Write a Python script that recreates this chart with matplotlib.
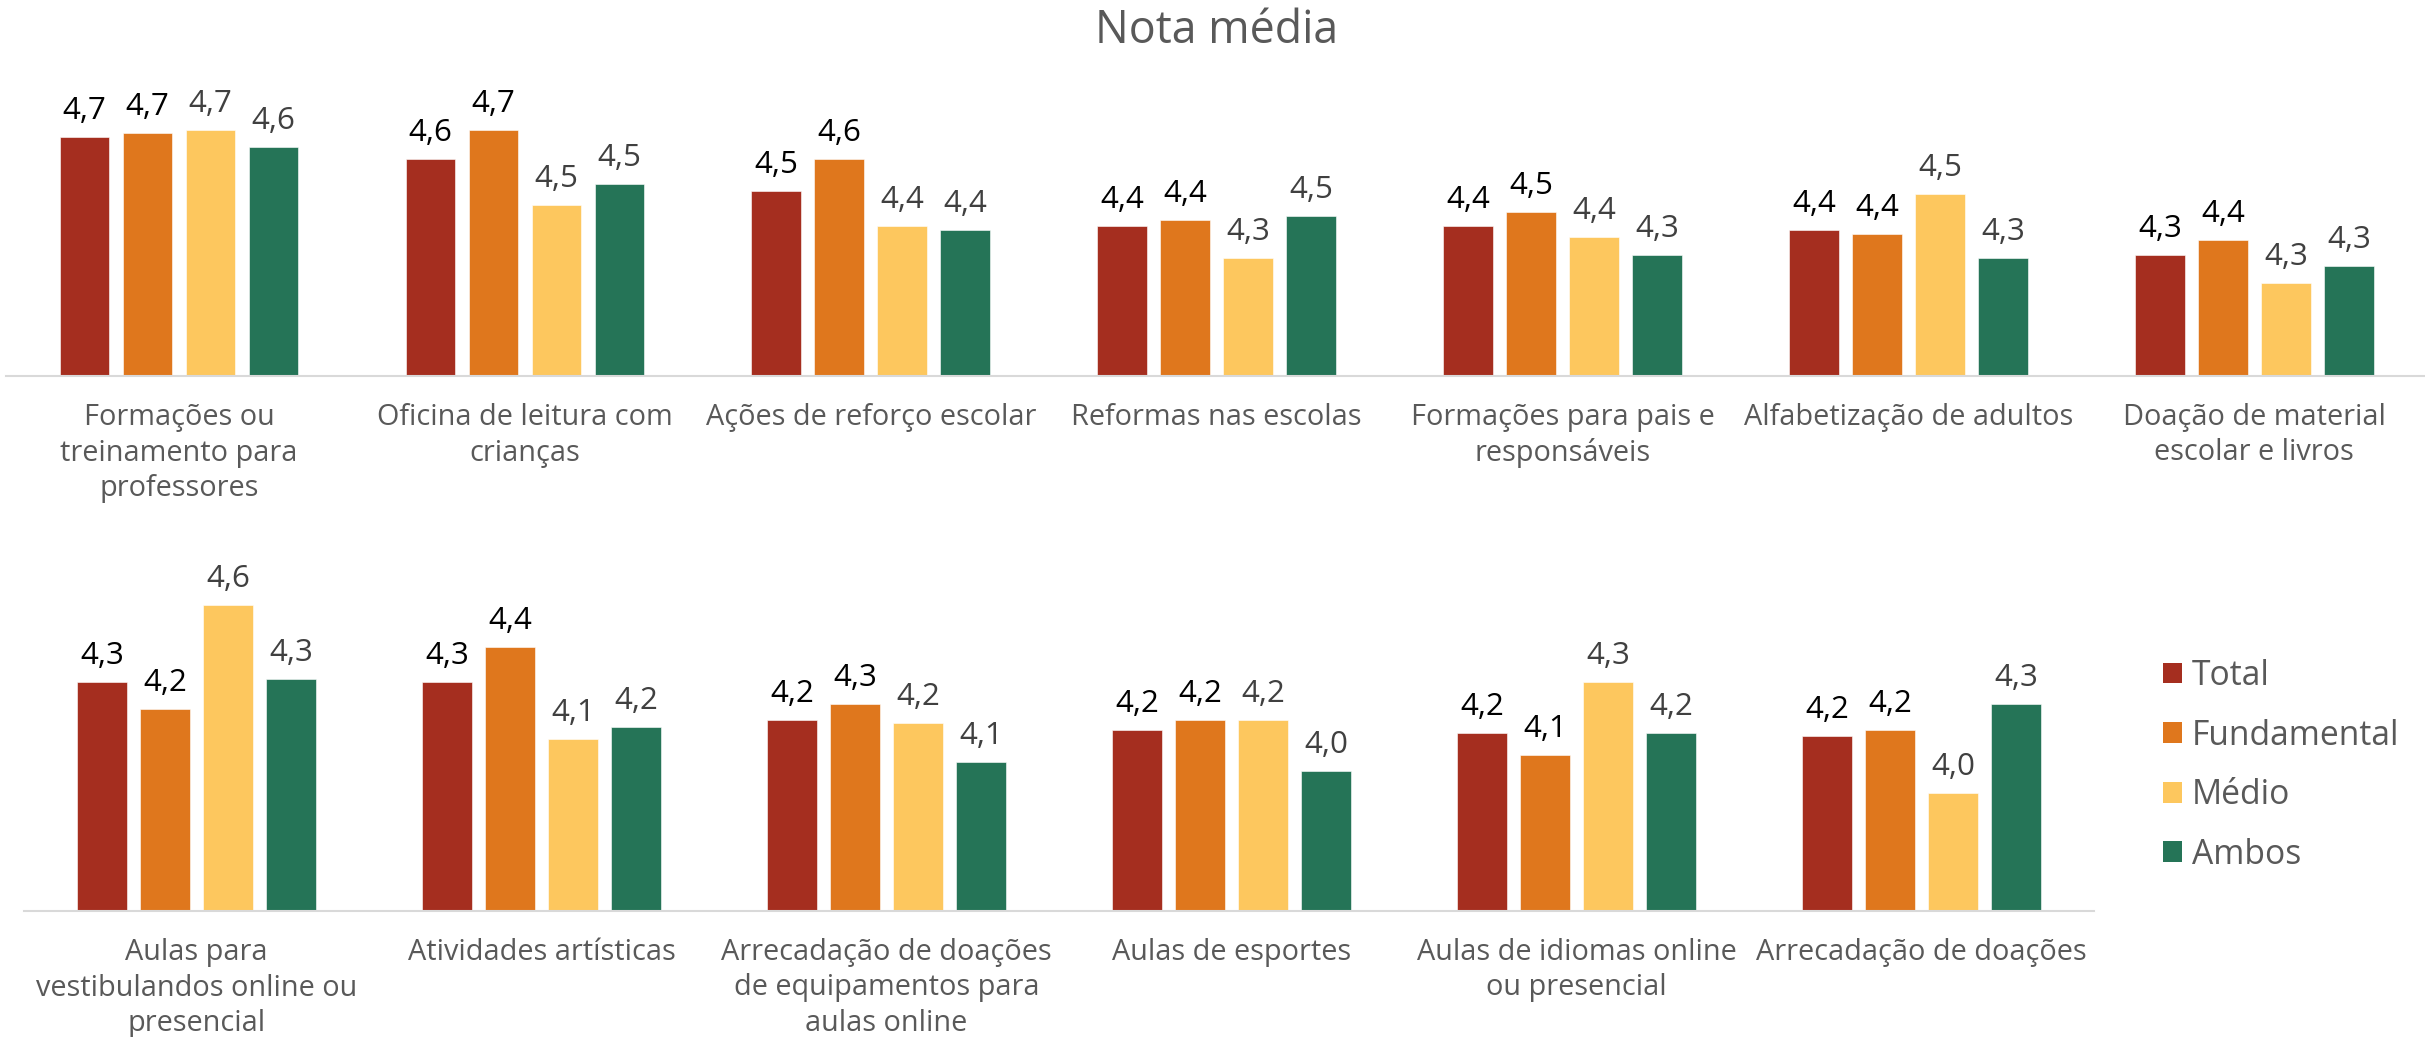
import matplotlib.pyplot as plt
from matplotlib.patches import Patch

plt.rcParams['font.family'] = ['Open Sans', 'DejaVu Sans']

# series / colours
series = ['Total', 'Fundamental', 'Médio', 'Ambos']
colors = ['#A52E1F', '#DF771D', '#FDC75E', '#257457']
value_colors = ['#000000', '#000000', '#404040', '#404040']

# top row
top_categories = ['Formações ou\ntreinamento para\nprofessores',
                  'Oficina de leitura com\ncrianças',
                  'Ações de reforço escolar',
                  'Reformas nas escolas',
                  'Formações para pais e\nresponsáveis',
                  'Alfabetização de adultos',
                  'Doação de material\nescolar e livros']
top_total = [4.674, 4.612, 4.522, 4.422, 4.422, 4.412, 4.342]
top_fundamental = [4.684, 4.693, 4.612, 4.440, 4.463, 4.401, 4.382]
top_medio = [4.693, 4.482, 4.422, 4.332, 4.392, 4.512, 4.261]
top_ambos = [4.644, 4.542, 4.412, 4.452, 4.342, 4.332, 4.311]

# bottom row
bottom_categories = ['Aulas para\nvestibulandos online ou\npresencial',
                     'Atividades artísticas',
                     'Arrecadação de doações\nde equipamentos para\naulas online',
                     'Aulas de esportes',
                     'Aulas de idiomas online\nou presencial',
                     'Arrecadação de doações']
bottom_total = [4.331, 4.331, 4.209, 4.178, 4.169, 4.159]
bottom_fundamental = [4.246, 4.443, 4.261, 4.209, 4.097, 4.179]
bottom_medio = [4.577, 4.149, 4.200, 4.209, 4.331, 3.976]
bottom_ambos = [4.341, 4.189, 4.077, 4.046, 4.169, 4.261]

W, H = 2425, 1037
fig = plt.figure(figsize=(W / 100, H / 100), dpi=100)
PT = 0.72  # points per pixel at dpi 100


def add_px_axes(left, top, right, bottom):
    return fig.add_axes([left / W, 1 - bottom / H, (right - left) / W, (bottom - top) / H])


def draw_row(ax, categories, data, ymin, ymax, spacing):
    step = 63 / spacing
    width = 49.5 / spacing
    for i, vals in enumerate(data):
        xs = [k + (i - 1.5) * step for k in range(len(categories))]
        ax.bar(xs, [v - ymin for v in vals], width=width, bottom=ymin,
               color=colors[i], edgecolor='white', linewidth=0.4, clip_on=False)
        for x, v in zip(xs, vals):
            ax.annotate(f"{v:.1f}".replace('.', ','), xy=(x, v), xytext=(0, 18 * PT),
                        textcoords='offset points', ha='center', va='baseline',
                        fontsize=22.5, color=value_colors[i])
    for k, lab in enumerate(categories):
        for j, line in enumerate(lab.split('\n')):
            ax.annotate(line, xy=(k, 0), xycoords=('data', 'axes fraction'),
                        xytext=(0, -(49 + j * 35.5) * PT), textcoords='offset points',
                        ha='center', va='baseline', fontsize=20.8, color='#595959',
                        annotation_clip=False)
    ax.set_xlim(-0.5, len(categories) - 0.5)
    ax.set_ylim(ymin, ymax)
    for s in ['top', 'left', 'right']:
        ax.spines[s].set_visible(False)
    ax.spines['bottom'].set_color('#D9D9D9')
    ax.spines['bottom'].set_linewidth(1.5)
    ax.set_xticks([])
    ax.set_yticks([])
    ax.patch.set_alpha(0)


ax1 = add_px_axes(6, 376 - 0.9 * 355, 6 + 7 * 345.9, 376)
draw_row(ax1, top_categories, [top_total, top_fundamental, top_medio, top_ambos], 4.0, 4.9, 345.9)

ax2 = add_px_axes(24, 911 - 1.0 * 313, 24 + 6 * 345, 911)
draw_row(ax2, bottom_categories, [bottom_total, bottom_fundamental, bottom_medio, bottom_ambos], 3.6, 4.6, 345)

handles = [Patch(facecolor=c) for c in colors]
fig.legend(handles, series, loc='upper left', bbox_to_anchor=(2163 / W, 1 - 659 / H),
           frameon=False, fontsize=24.2, handlelength=0.57, handleheight=0.57,
           handletextpad=0.3, labelspacing=0.76, borderpad=0, borderaxespad=0,
           labelcolor='#595959')

fig.text(1217 / W, 1 - 43 / H, 'Nota média', ha='center', va='baseline',
         fontsize=32.2, color='#595959')

fig.savefig('out.png', dpi=100)
